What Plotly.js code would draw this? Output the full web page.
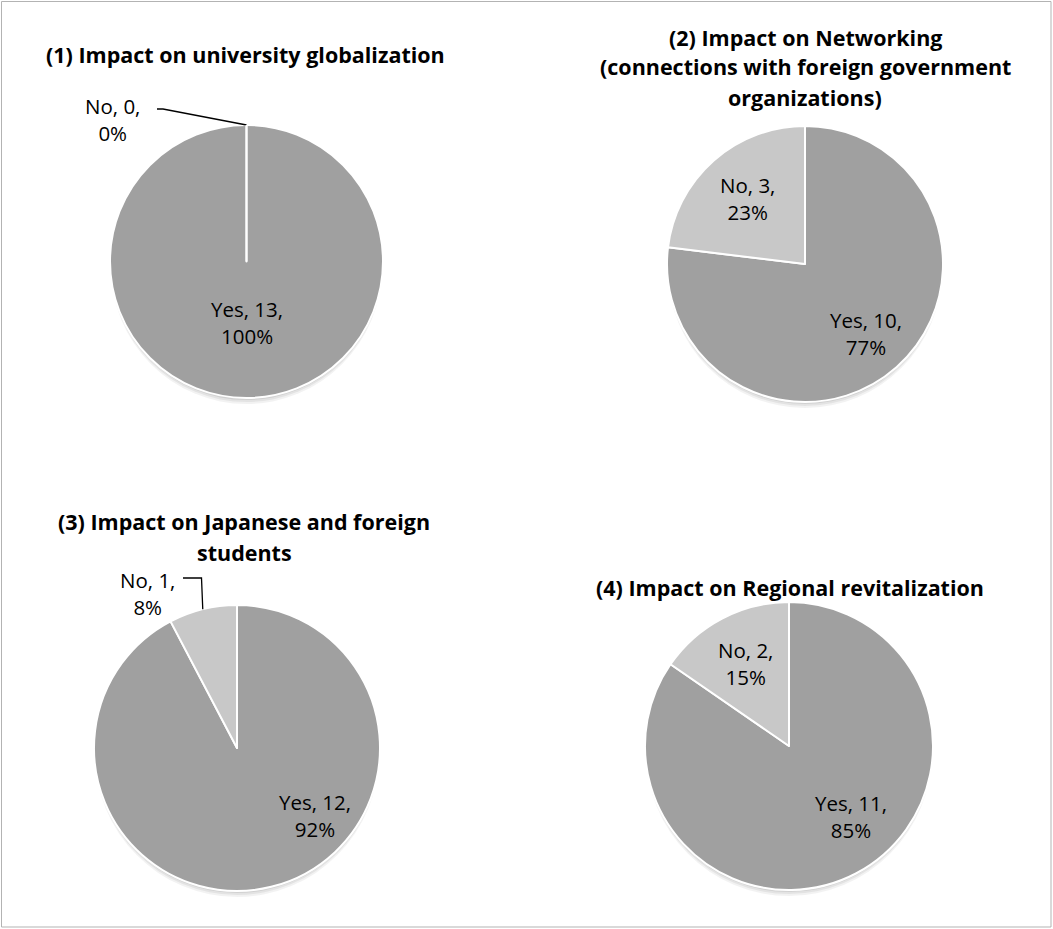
<!DOCTYPE html>
<html>
<head>
<meta charset="utf-8">
<script src="https://cdn.plot.ly/plotly-3.0.1.min.js"></script>
<style>html,body{margin:0;padding:0;background:#fff;}#chart{width:1053px;height:929px;}</style>
</head>
<body>
<div id="chart"></div>
<script>
// ---- Data ----
const categories = ['Yes', 'No'];
const titles = [
  ['(1) Impact on university globalization'],
  ['(2) Impact on Networking', '(connections with foreign government', 'organizations)'],
  ['(3) Impact on Japanese and foreign', 'students'],
  ['(4) Impact on Regional revitalization']
];
const globalizationValues = [13, 0];
const networkingValues = [10, 3];
const studentsValues = [12, 1];
const regionalValues = [11, 2];
const seriesValues = [globalizationValues, networkingValues, studentsValues, regionalValues];

// ---- Layout / style ----
const W = 1053, H = 929;
const colors = ['#a0a0a0', '#c8c8c8'];
const FONT = '"Open Sans", Lato, sans-serif';
const TITLE_SIZE = 21.5;
const LABEL_SIZE = 20.5;
// pie placement in px: centre and radius
const pieGeom = [
  {cx: 246.5, cy: 261.5, r: 136.5},
  {cx: 805, cy: 264, r: 138},
  {cx: 237, cy: 748, r: 143},
  {cx: 789, cy: 746, r: 144}
];
const titleGeom = [
  {x: 245, y: 55, dy: 31},
  {x: 805, y: 37, dy: 30},
  {x: 244, y: 521, dy: 31},
  {x: 790, y: 587, dy: 31}
];
// label placement: angle (deg, clockwise from 12 o'clock; null = slice bisector) and radius fraction
// outside labels carry a text position and elbow point
const labelStyle = [
  [{ang: null, f: 0.45}, {outside: true, tx: 112, ty: 119, elbow: [[157, 109], [163, 109]]}],
  [{ang: null, f: 0.67}, {ang: null, f: 0.63}],
  [{ang: 131, f: 0.72}, {outside: true, tx: 147, ty: 593, elbow: [[183, 578], [201.5, 578]]}],
  [{ang: 138.5, f: 0.65}, {ang: null, f: 0.65}]
];

const px = x => x / W;
const py = y => 1 - y / H;

const data = [];
const annotations = [];
const shapes = [];

seriesValues.forEach((vals, i) => {
  const g = pieGeom[i];
  // soft drop shadow under each pie
  [[6, 0.05], [4, 0.06], [2, 0.08]].forEach(([d, o]) => {
    shapes.push({type: 'circle', xref: 'paper', yref: 'paper', layer: 'below',
      x0: px(g.cx - g.r + 1), x1: px(g.cx + g.r - 1), y0: py(g.cy + g.r + d), y1: py(g.cy - g.r + d),
      fillcolor: 'rgba(0,0,0,' + o + ')', line: {width: 0}});
  });
  data.push({
    type: 'pie',
    values: vals,
    labels: categories,
    sort: false,
    direction: 'clockwise',
    rotation: 0,
    textinfo: 'none',
    hoverinfo: 'label+value+percent',
    marker: {colors: colors, line: {color: '#ffffff', width: 2}},
    domain: {x: [px(g.cx - g.r), px(g.cx + g.r)], y: [py(g.cy + g.r), py(g.cy - g.r)]}
  });

  // titles
  titles[i].forEach((line, k) => {
    const tg = titleGeom[i];
    annotations.push({
      xref: 'paper', yref: 'paper', x: px(tg.x), y: py(tg.y + k * tg.dy),
      xanchor: 'center', yanchor: 'middle', showarrow: false,
      text: '<b>' + line + '</b>',
      font: {family: FONT, size: TITLE_SIZE, color: '#000'}
    });
  });

  // data labels
  const total = vals.reduce((a, b) => a + b, 0);
  let cum = 0;
  vals.forEach((v, j) => {
    const start = cum / total * 360;
    cum += v;
    const end = cum / total * 360;
    const bis = (start + end) / 2;
    const st = labelStyle[i][j];
    const pct = Math.round(v / total * 100) + '%';
    const txt = categories[j] + ', ' + v + ',<br>' + pct;
    if (st.outside) {
      const a = bis * Math.PI / 180;
      const ex = g.cx + g.r * Math.sin(a), ey = g.cy - g.r * Math.cos(a);
      const pts = st.elbow.concat([[ex, ey]]);
      const path = pts.map((p, k) => (k ? 'L' : 'M') + px(p[0]) + ',' + py(p[1])).join(' ');
      shapes.push({type: 'path', xref: 'paper', yref: 'paper', path: path, line: {color: '#000', width: 1.3}});
      annotations.push({
        xref: 'paper', yref: 'paper', x: px(st.tx), y: py(st.ty),
        xanchor: 'center', yanchor: 'middle', showarrow: false, text: txt,
        font: {family: FONT, size: LABEL_SIZE, color: '#000'}
      });
    } else {
      const ang = (st.ang === null ? bis : st.ang) * Math.PI / 180;
      const lx = g.cx + st.f * g.r * Math.sin(ang);
      const ly = g.cy - st.f * g.r * Math.cos(ang);
      annotations.push({
        xref: 'paper', yref: 'paper', x: px(lx), y: py(ly),
        xanchor: 'center', yanchor: 'middle', showarrow: false, text: txt,
        font: {family: FONT, size: LABEL_SIZE, color: '#000'}
      });
    }
  });

  // zero-value slices: draw their radial border edge
  if (vals.some(v => v === 0)) {
    shapes.push({type: 'line', xref: 'paper', yref: 'paper',
      x0: px(g.cx), y0: py(g.cy), x1: px(g.cx), y1: py(g.cy - g.r),
      line: {color: '#ffffff', width: 2}});
  }
});

// chart border
shapes.push({type: 'rect', xref: 'paper', yref: 'paper',
  x0: px(1.5), y0: py(927), x1: px(1051), y1: py(1.5),
  line: {color: '#b3b3b3', width: 1}});

const layout = {
  width: W, height: H,
  margin: {l: 0, r: 0, t: 0, b: 0},
  paper_bgcolor: '#ffffff',
  showlegend: false,
  annotations: annotations,
  shapes: shapes,
  font: {family: FONT}
};

Plotly.newPlot('chart', data, layout, {displayModeBar: false, staticPlot: true});
</script>
</body>
</html>
